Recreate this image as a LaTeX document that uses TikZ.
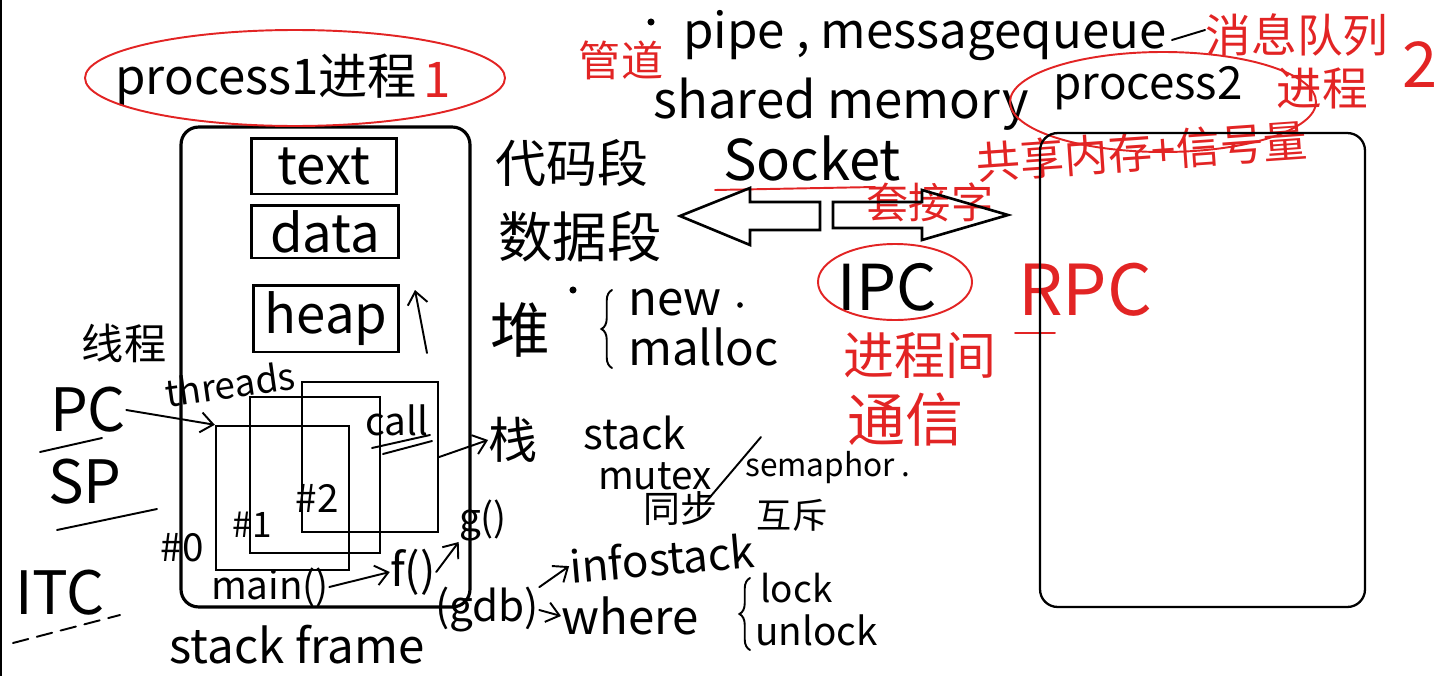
\documentclass[tikz,border=0pt]{standalone}
\usepackage{fontspec}
\setmainfont{Noto Sans CJK SC}
\usetikzlibrary{arrows.meta,decorations.pathreplacing}
\definecolor{inkred}{RGB}{226,36,36}

\begin{document}
\begin{tikzpicture}[
  x=0.02cm, y=-0.02cm,
  hand/.style={inner sep=0pt, font=\fontsize{#1}{#1}\selectfont},
  redhand/.style={hand=#1, text=inkred},
  pen/.style={line width=1.1pt, line cap=round},
  redpen/.style={pen, draw=inkred},
  hook/.style={pen, -{Straight Barb[length=2.5mm, width=4mm]}},
  curly/.style={pen, decorate, decoration={brace, amplitude=6pt}},
  seg/.style={draw, line width=1.7pt, hand=30, minimum width=2.92cm},
  procbox/.style={draw, line width=1.8pt, rounded corners=0.35cm},
  stackbox/.style={draw, line width=1.4pt},
]
  \useasboundingbox (0,0) rectangle (1454,676);
  \draw[line width=1.5pt] (1,0) -- (1,676);

  % process 1
  \node[procbox, minimum width=5.78cm, minimum height=9.6cm] (proc1) at (325.5,367) {};
  \node[seg, minimum height=1.12cm] (text) at (324,166) {text};
  \node[seg, minimum height=1.06cm, minimum width=2.96cm] (data) at (325,231.5) {data};
  \node[seg, minimum height=1.34cm] (heap) at (326,318.5) {heap};
  \coordinate (grow0) at (427,353);
  \coordinate (grow1) at (415,290);
  \draw[hook] (grow0) -- (grow1);

  \node[stackbox, minimum width=2.66cm, minimum height=2.88cm] (f0) at (282.5,498) {};
  \node[stackbox, minimum width=2.6cm, minimum height=3.12cm] (f1) at (315,475) {};
  \node[stackbox, minimum width=2.72cm, minimum height=3.0cm] (f2) at (370,457) {};
  \node[hand=22] (n0) at (182,548) {\#0};
  \node[hand=20] (n1) at (252,525) {\#1};
  \node[hand=22] (n2) at (317,498) {\#2};
  \node[hand=22] (call) at (397,420) {call};
  \draw[pen] (372,448) -- (430,435);
  \draw[pen] (383,454) -- (432,441);

  \node[hand=22] (main) at (270,587) {main()};
  \node[hand=26] (ff) at (413,572) {f()};
  \node[hand=22] (gg) at (483,521) {g()};
  \draw[hook] (main.east) -- (ff.west);
  \draw[hook] (ff.east) -- (gg.south west);
  \node[hand=27] (sframe) at (297,645) {stack frame};

  % threads
  \node[hand=24] (xiancheng) at (124,343) {线程};
  \node[hand=21, rotate=8] (threads) at (230,384) {threads};
  \node[hand=34] (pc) at (88,410) {PC};
  \draw[pen] (40,452) -- (102,438);
  \node[hand=34] (sp) at (85,482) {SP};
  \draw[pen] (57,530) -- (157,509);
  \draw[hook] (pc.east) -- (f0.north west);
  \node[hand=34] (itc) at (60,593) {ITC};
  \draw[pen, dash pattern=on 9pt off 5pt] (13,643) -- (120,615);

  % segments
  \node[hand=29] (codeseg) at (572,163) {代码段};
  \node[hand=31] (dataseg) at (580,237) {数据段};
  \node[hand=34] (dui) at (520,330) {堆};
  \fill (573,290) circle[radius=2pt];
  \draw[curly] (612,368) -- (612,290);
  \node[hand=27, anchor=west] (new) at (628,303) {new};
  \fill (740,305) circle[radius=1.6pt];
  \node[hand=27, anchor=west] (malloc) at (628,347) {malloc};

  \node[hand=28] (zhan) at (513,440) {栈};
  \draw[hook] (f2.east) -- (zhan.west);
  \node[hand=24] (stack) at (635,433) {stack};
  \node[hand=22] (mutex) at (655,476) {mutex};
  \node[hand=18] (sem) at (828,468) {semaphor .};
  \draw[pen] (761,437) -- (705,503);
  \node[hand=21] (tongbu) at (680,509) {同步};
  \node[hand=20] (huchi) at (792,515) {互斥};

  \node[hand=24] (gdb) at (487,610) {(gdb)};
  \node[hand=25, rotate=5] (info) at (662,558) {infostack};
  \node[hand=27] (where) at (630,616) {where};
  \draw[hook] (gdb.north east) -- (info.west);
  \draw[hook] (gdb.east) -- (where.west);
  \draw[curly] (750,650) -- (750,578);
  \node[hand=21, anchor=west] (lock) at (760,588) {lock};
  \node[hand=22, anchor=west] (unlock) at (755,630) {unlock};

  % top
  \node[hand=28, anchor=west] (p1name) at (115,80) {process1进程};
  \node[redhand=28] (p1num) at (437,80) {1};
  \draw[redpen] (295,78) ellipse [x radius=210, y radius=48];

  \fill (651,22) circle[radius=2pt];
  \node[hand=28, anchor=west] (pipe) at (683,36) {pipe , messagequeue};
  \draw[pen] (1172,40) -- (1205,30);
  \node[redhand=24] (guandao) at (621,60) {管道};
  \node[redhand=26] (xiaoxi) at (1297,35) {消息队列};
  \node[hand=29] (shm) at (841,104) {shared memory};
  \node[hand=26] (p2name) at (1148,88) {process2};
  \node[redhand=26] (p2cn) at (1322,88) {进程};
  \node[redhand=36] (p2num) at (1420,65) {2};
  \draw[redpen] (1163,102) ellipse [x radius=153, y radius=50];
  \node[redhand=25, rotate=4] (shmcn) at (1142,151) {共享内存+信号量};

  \node[hand=32] (socket) at (812,158) {Socket};
  \node[redhand=24] (socketcn) at (930,202) {套接字};
  \draw[redpen] (715,190) -- (875,187);
  \draw[line width=1.5pt, line join=miter]
    (820,202) -- (750,202) -- (750,188) -- (680,216) -- (750,245) -- (750,230) -- (820,230) -- cycle;
  \draw[line width=1.5pt, line join=miter]
    (833,202) -- (922,202) -- (922,190) -- (1008,215) -- (922,240) -- (922,228) -- (833,228) -- cycle;

  \node[hand=36] (ipc) at (887,287) {IPC};
  \draw[redpen] (895,282) ellipse [x radius=77, y radius=38];
  \node[redhand=29] (jcj) at (920,355) {进程间};
  \node[redhand=33] (tongxin) at (905,420) {通信};
  \node[redhand=40] (rpc) at (1085,290) {RPC};
  \draw[redpen] (1015,333) -- (1055,333);

  % process 2
  \node[procbox, line width=1.3pt, minimum width=6.5cm, minimum height=9.48cm] (proc2) at (1202.5,370) {};
\end{tikzpicture}
\end{document}
